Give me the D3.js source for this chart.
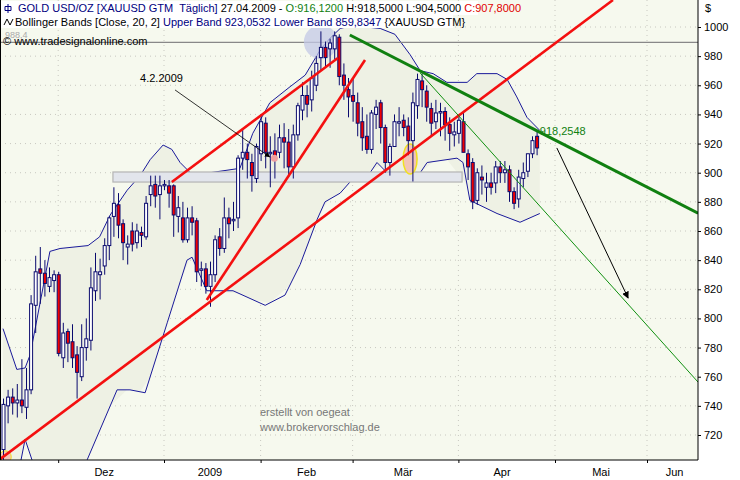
<!DOCTYPE html>
<html><head><meta charset="utf-8">
<script src="https://cdn.jsdelivr.net/npm/d3@7"></script>
<style>body{margin:0;background:#fff}svg{display:block;font-family:"Liberation Sans",Arial,sans-serif}</style>
</head><body><svg id="c" width="740" height="480"></svg>
<script>
// candles (trading-day index = position in arrays)
const opens  = [710,740,746,742,744,739,751,809,834,831,822,826,830,773,791,784,775,760,780,785,819,830,836,850,870,878,865,849,860,852,859,856,885,892,885,891,891,891,870,869,854,869,867,833,834,822,830,856,848,869,867,869,910,914,907,896,913,934,913,915,914,924,921,904,926,943,953,950,960,979,986,985,985,993,967,957,953,948,935,925,916,940,948,931,907,918,934,936,932,922,946,963,956,944,935,941,942,933,926,927,935,913,907,881,897,890,893,893,904,900,902,887,882,896,901,913,925]
const highs  = [745,751,752,755,772,766,816,843,849,840,835,833,832,797,793,796,781,796,800,835,845,841,855,870,890,886,868,857,866,865,863,884,898,898,898,895,895,892,884,880,876,877,869,839,838,839,857,862,883,876,880,912,930,920,913,920,940,938,925,927,933,934,930,933,948,962,960,970,980,997,990,992,997,995,975,965,965,955,945,940,943,950,950,933,920,940,945,940,938,955,968,968,960,948,950,948,945,938,935,940,941,916,910,903,905,900,900,908,908,908,905,890,902,907,913,925,928]
const lows   = [703,728,734,732,735,731,748,790,810,815,818,818,774,766,770,766,745,757,771,778,812,813,830,840,856,855,840,837,846,848,849,854,877,876,868,888,876,856,859,852,852,857,825,822,817,808,825,843,845,855,860,862,902,896,887,893,908,903,890,896,910,903,897,896,922,936,938,942,956,970,972,972,978,960,950,938,935,925,915,913,913,930,920,900,898,918,925,925,912,894,937,945,935,925,930,925,922,915,918,920,914,895,875,878,885,880,885,886,893,893,880,875,876,890,897,910,912]
const closes = [741,746,742,744,740,751,810,832,831,824,828,830,776,790,783,773,763,780,786,821,832,832,850,869,879,864,852,851,851,860,857,879,891,884,891,892,886,871,876,854,869,866,832,834,822,830,854,848,869,865,868,910,914,909,898,918,935,914,914,911,924,921,904,926,946,953,947,965,975,986,979,989,994,966,960,952,949,934,924,916,941,945,931,907,918,935,935,931,922,948,964,957,945,934,941,942,933,927,928,936,914,904,880,900,895,893,890,904,900,902,887,879,897,900,913,922,917]

// bollinger bands: [index, price]
const upperBand = [[0,793],[3,765],[4.8,766],[5.9,775],[10.2,846],[12.4,848],[18.5,850],[21,856],[23.3,871],[27,888],[29.8,898],[32,909],[34.8,919],[36.7,916],[38.5,907],[40.7,900],[42.4,898],[45,900],[51.5,903],[54.3,927],[58,948],[62.4,959],[65.7,967],[68.9,984],[71,992],[73.3,999],[75.9,1001],[82,999],[85.2,995],[88.5,981],[90.7,970],[93.5,968],[96.5,962],[100.9,962],[103,968],[107.4,968],[109.6,964],[111.7,952],[113.9,938],[116.7,929]]
const lowerBand = [[0,640],[4.8,717],[6.3,703],[12,680],[18.3,703],[24.8,751],[27.6,751],[30.9,749],[35.7,797],[40,840],[41.1,842],[44.3,819],[50,819],[57,809],[61.3,816],[64.6,837],[68.3,868],[70,880],[73.3,886],[76.1,896],[79.8,900],[81.3,907],[83.5,900],[86.3,897],[88.9,894],[90.7,900],[92.2,907],[98.7,910],[100,907],[101.5,881],[107.4,872],[112.4,866],[116.7,872]]

const priceTicks = [720,740,760,780,800,820,840,860,880,900,920,940,960,980,1000]
const monthStarts = [12,35,56,76,99,120,140]
const monthLabels = [{i:22,t:"Dez"},{i:45,t:"2009"},{i:66,t:"Feb"},{i:87,t:"Mär"},{i:108.5,t:"Apr"},{i:130,t:"Mai"},{i:146,t:"Jun"}]

// drawings: [index, price] pairs
const redLines = [[[-0.65,703.4],[132.6,1018.5]],[[36.7,893.6],[72.8,978.7]],[[44.3,812.6],[78.7,977.3]]]
const greenThick = [[75.4,994.5],[151.1,872.2]]
const greenThin = [[90.7,968.4],[151.1,756.3]]
const arrowA = [[37.4,956.8],[58,910.8]]
const arrowB = [[120.4,917],[135.9,814]]
const zone = {i0:23.9,i1:99.8,p0:900.5,p1:893.6}
const hLine = 989.5

const W=698, H=460
const x = d3.scaleLinear().domain([0,150]).range([3,3+150*4.6])
const y = d3.scaleLinear().domain([720,1000]).range([435,27])
const svg = d3.select("#c")
svg.append("defs").html(`<clipPath id="cp"><rect x="0" y="0" width="${W}" height="${H}"/></clipPath>
<marker id="ah" viewBox="0 0 10 10" refX="9" refY="5" markerWidth="7" markerHeight="7" orient="auto"><path d="M0,0L10,5L0,10z" fill="#000"/></marker>`)
svg.append("rect").attr("width",740).attr("height",480).attr("fill","#fff")
svg.append("rect").attr("width",W).attr("height",H).attr("fill","#f6f9ee")
const g = svg.append("g").attr("clip-path","url(#cp)")

// grid
g.selectAll(".hg").data(priceTicks).join("line").attr("x1",0).attr("x2",W).attr("y1",d=>y(d)).attr("y2",d=>y(d))
  .attr("stroke","#c8c8c0").attr("stroke-dasharray","1,4")
g.selectAll(".vg").data(monthStarts).join("line").attr("x1",d=>x(d)).attr("x2",d=>x(d)).attr("y1",0).attr("y2",H)
  .attr("stroke","#c8c8c0").attr("stroke-dasharray","1,4")

// band area
const bx = d => x(d[0]), by = d => y(d[1])
const lowerI = d3.scaleLinear().domain(lowerBand.map(d=>d[0])).range(lowerBand.map(d=>d[1]))
const areaPts = upperBand.map(d=>[d[0],d[1],lowerI(d[0])])
g.append("path").datum(areaPts).attr("fill","#eef1e4")
  .attr("d",d3.area().x(d=>x(d[0])).y0(d=>y(d[2])).y1(d=>y(d[1])))
g.append("path").datum(upperBand).attr("fill","none").attr("stroke","#1a1a9a").attr("d",d3.line().x(bx).y(by))
g.append("path").datum(lowerBand).attr("fill","none").attr("stroke","#1a1a9a").attr("d",d3.line().x(bx).y(by))

// zone rectangle and level line
g.append("rect").attr("x",x(zone.i0)).attr("width",x(zone.i1)-x(zone.i0)).attr("y",y(zone.p0)).attr("height",y(zone.p1)-y(zone.p0))
  .attr("fill","#e2e5ec").attr("stroke","#b4b4b4").attr("stroke-width",1.2)
g.append("line").attr("x1",0).attr("x2",W).attr("y1",y(hLine)).attr("y2",y(hLine)).attr("stroke","#888").attr("stroke-width",1.2)
g.append("text").attr("x",5).attr("y",y(hLine)-4).attr("font-size",9).attr("fill","#aaa").text("988,4")
g.append("circle").attr("cx",x(69.1)).attr("cy",y(989.7)).attr("r",17).attr("fill","rgba(195,200,230,0.75)")
g.append("ellipse").attr("cx",x(88.5)).attr("cy",y(909.4)).attr("rx",7).attr("ry",15).attr("fill","#f2c4b8").attr("stroke","#f0e020").attr("stroke-width",1.5)
g.append("circle").attr("cx",x(0.5)).attr("cy",y(705)).attr("r",6).attr("fill","#f2c4b8").attr("stroke","#f0e020")

// candles
const idx = d3.range(opens.length)
g.selectAll(".wk").data(idx).join("line").attr("x1",i=>x(i)+0.5).attr("x2",i=>x(i)+0.5)
  .attr("y1",i=>y(highs[i])).attr("y2",i=>y(lows[i])).attr("stroke","#0a0a6e")
g.selectAll(".bd").data(idx).join("rect").attr("x",i=>x(i)-1).attr("width",3)
  .attr("y",i=>y(Math.max(opens[i],closes[i]))).attr("height",i=>Math.max(1,Math.abs(y(opens[i])-y(closes[i]))))
  .attr("fill",i=>closes[i]<opens[i]?"#f00000":"#fff").attr("stroke","#0a0a6e")

// trend lines
const ln = d3.line().x(bx).y(by)
g.selectAll(".rl").data(redLines).join("path").attr("d",ln).attr("stroke","#f41010").attr("stroke-width",2.6).attr("fill","none")
g.append("path").datum(greenThin).attr("d",ln).attr("stroke","#109010").attr("stroke-width",1)
g.append("path").datum(greenThick).attr("d",ln).attr("stroke","#108010").attr("stroke-width",3)
g.append("text").attr("x",x(116.7)).attr("y",y(926)).attr("font-size",11).attr("fill","#108010").text("918,2548")
g.append("circle").attr("cx",x(59)).attr("cy",y(910)).attr("r",3.5).attr("fill","#f0a0a0")
g.append("path").datum(arrowA).attr("d",ln).attr("stroke","#000").attr("stroke-width",0.8).attr("marker-end","url(#ah)")
g.append("path").datum(arrowB).attr("d",ln).attr("stroke","#000").attr("stroke-width",1).attr("marker-end","url(#ah)")
g.append("text").attr("x",x(29.8)).attr("y",y(962)).attr("font-size",11).text("4.2.2009")
g.append("text").attr("x",260).attr("y",416).attr("font-size",11).attr("fill","#777").text("erstellt von oegeat")
g.append("text").attr("x",260).attr("y",431).attr("font-size",11).attr("fill","#777").text("www.brokervorschlag.de")

// header
const hdr = svg.append("g").attr("font-size",11)
hdr.append("rect").attr("x",1).attr("y",1).attr("width",477).attr("height",14).attr("fill","#fff")
hdr.append("rect").attr("x",1).attr("y",15).attr("width",452).attr("height",13).attr("fill","#fff")
hdr.append("path").attr("d","M8,4V13M5,6.5h6v4h-6z").attr("stroke","#000080").attr("fill","none")
const t1 = hdr.append("text").attr("x",18).attr("y",12)
;[["GOLD USD/OZ [XAUUSD GTM  Täglich] ","#000080"],["27.04.2009 - ","#000"],["O:916,1200 ","#108010"],["H:918,5000 L:904,5000 ","#000"],["C:907,8000","#e00000"]]
  .forEach(([s,c])=>t1.append("tspan").attr("fill",c).attr("xml:space","preserve").text(s))
hdr.append("path").attr("d","M4,25l3,-6l3,6l3,-6").attr("stroke","#000").attr("fill","none")
const t2 = hdr.append("text").attr("x",15).attr("y",26)
;[["Bollinger Bands [Close, 20, 2] ","#000"],["Upper Band 923,0532 Lower Band 859,8347 ","#000080"],["{XAUUSD GTM}","#000"]]
  .forEach(([s,c])=>t2.append("tspan").attr("fill",c).text(s))
hdr.append("text").attr("x",3).attr("y",45).text("© www.tradesignalonline.com")

// axes frame
svg.append("line").attr("x1",W).attr("x2",W).attr("y1",0).attr("y2",H).attr("stroke","#000")
svg.append("line").attr("x1",0).attr("x2",W).attr("y1",H).attr("y2",H).attr("stroke","#000")
svg.append("line").attr("x1",0.5).attr("x2",0.5).attr("y1",0).attr("y2",H).attr("stroke","#000")
const ya = svg.append("g").attr("transform",`translate(${W},0)`)
  .call(d3.axisRight(y).tickValues(priceTicks).tickSize(3).tickFormat(d3.format("d")))
ya.select(".domain").remove()
ya.selectAll("text").attr("font-size",11).attr("font-family","Liberation Sans").attr("x",6)
svg.append("text").attr("x",705).attr("y",12).attr("font-size",11).text("$")
const xa = svg.append("g").attr("transform",`translate(0,${H})`)
  .call(d3.axisBottom(x).tickValues(monthStarts).tickSize(3).tickFormat(""))
xa.select(".domain").remove()
svg.selectAll(".ml").data(monthLabels).join("text").attr("x",d=>x(d.i)).attr("y",476).attr("text-anchor","middle")
  .attr("font-size",11).text(d=>d.t)
</script></body></html>
